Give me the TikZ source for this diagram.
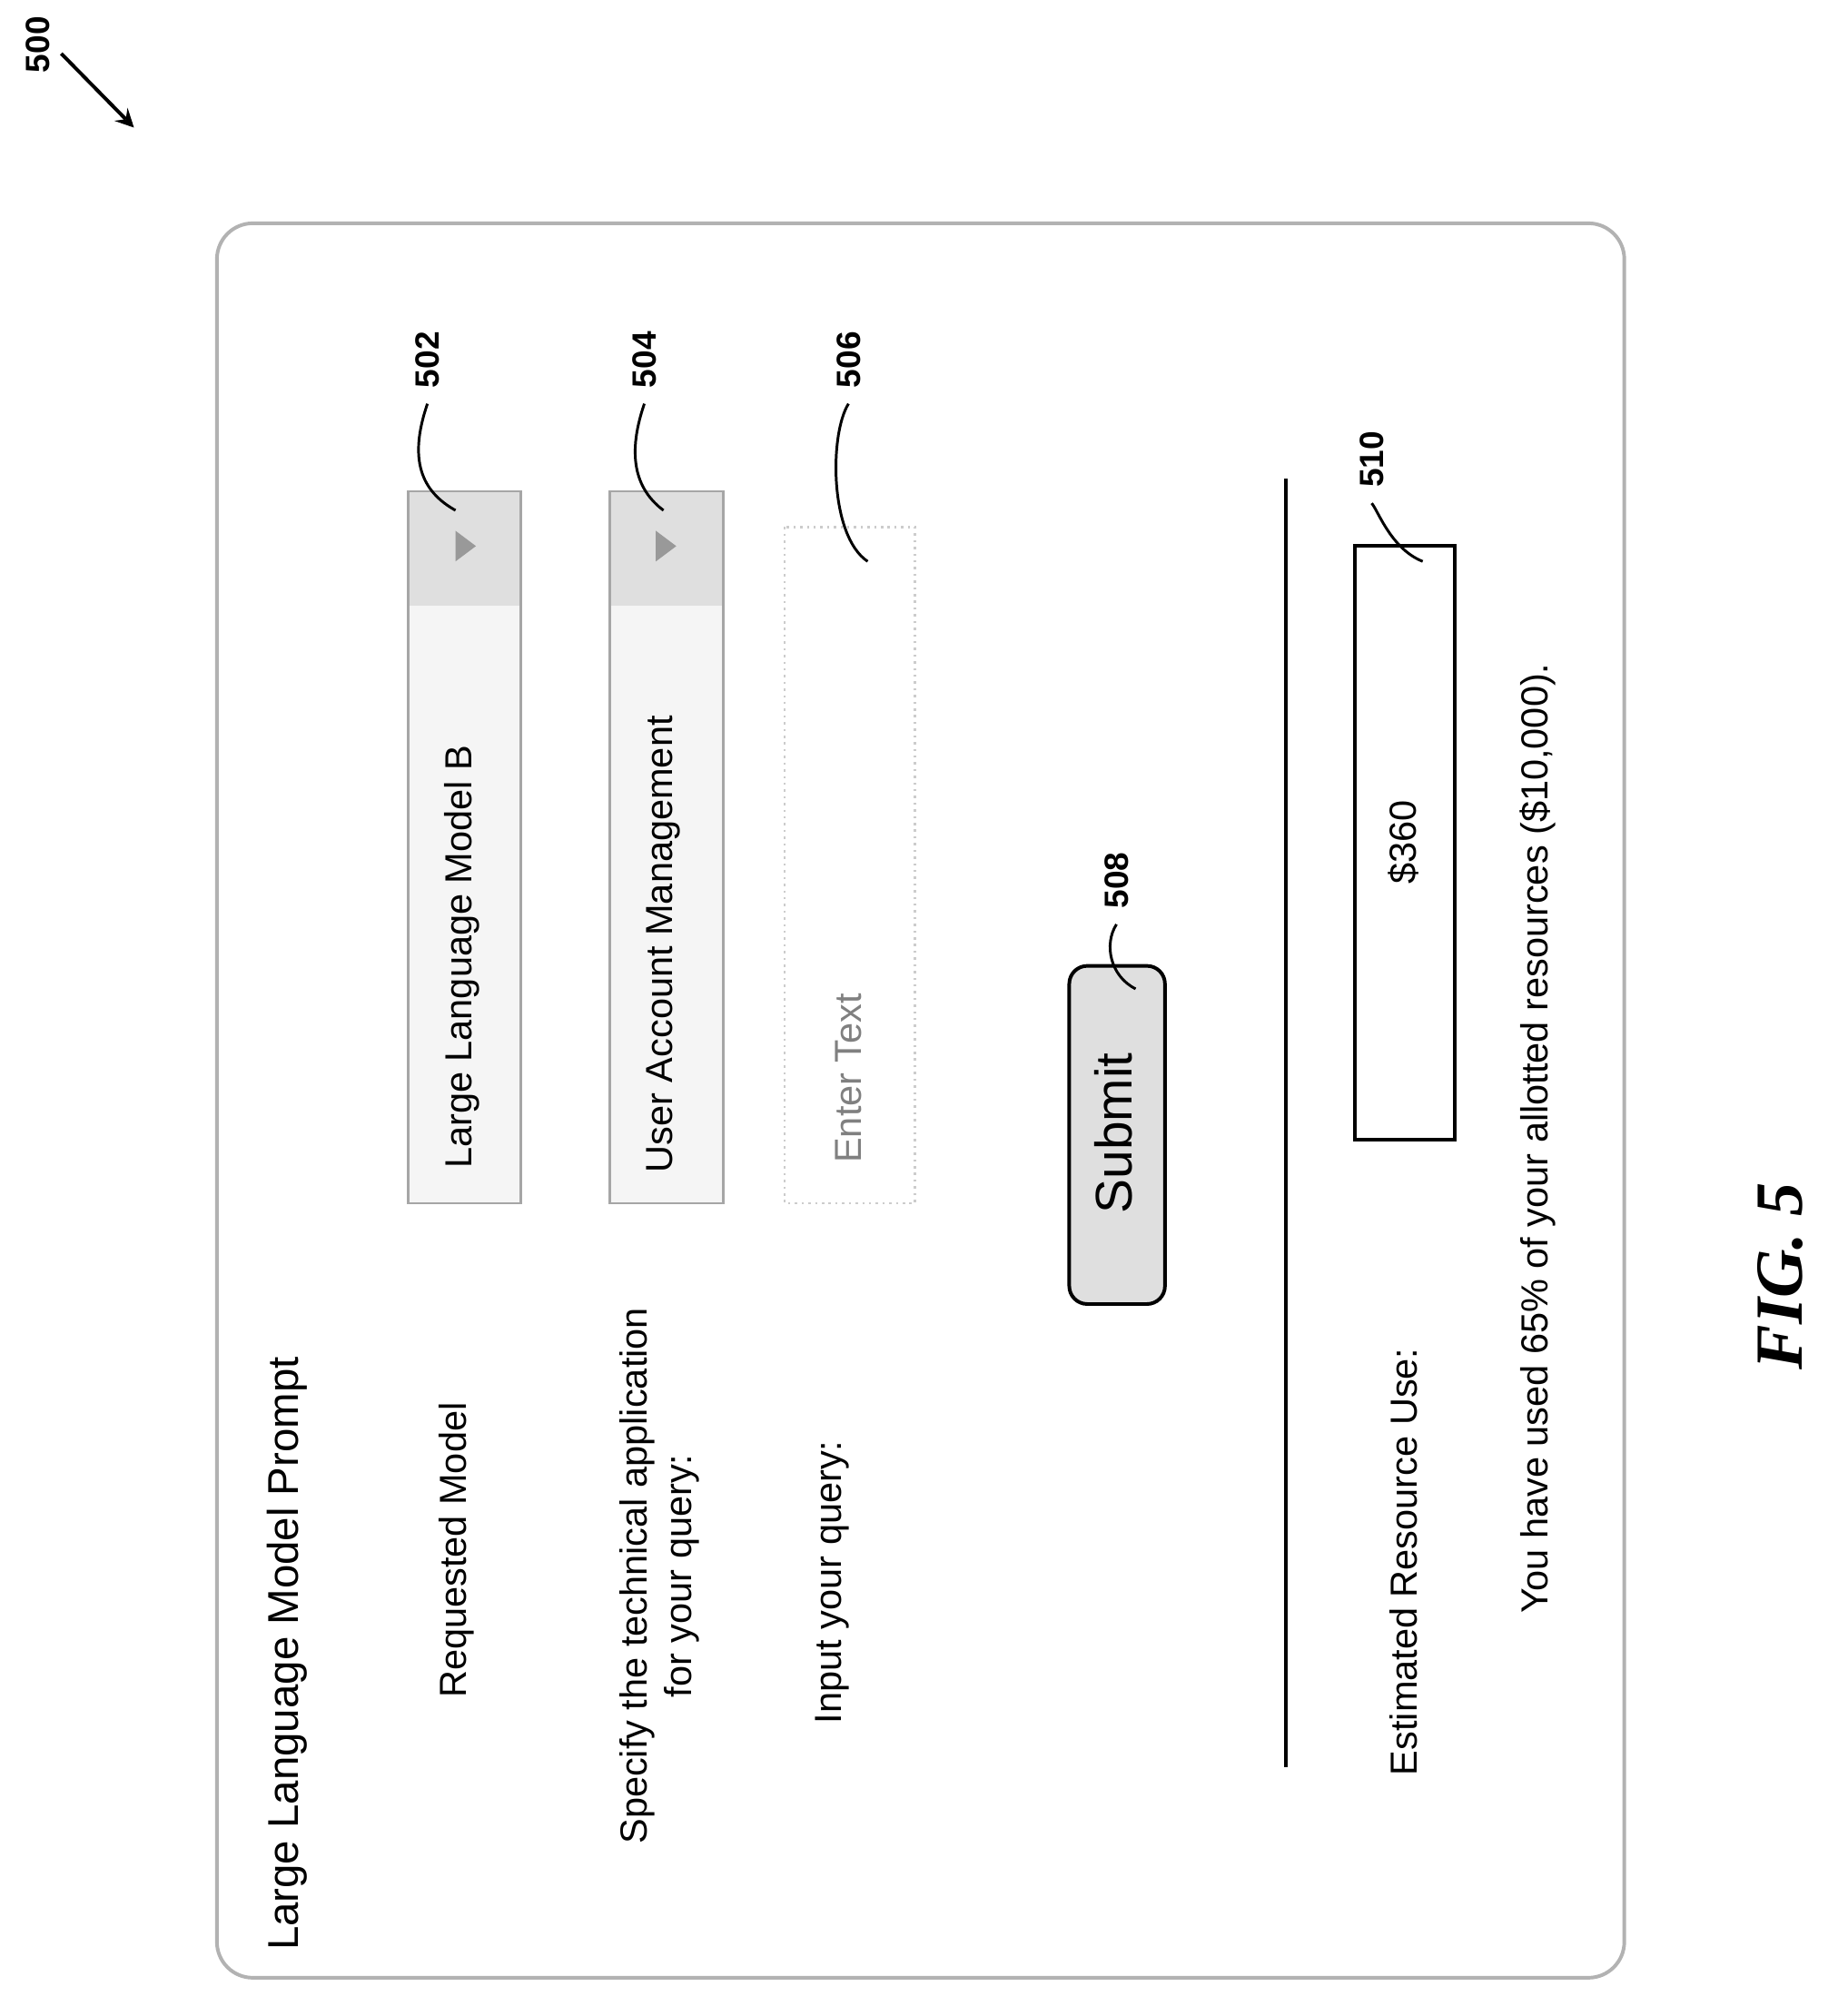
\documentclass[tikz,border=0pt]{standalone}
\usepackage{fontspec}
\setmainfont{Liberation Sans}
\newfontfamily\figfont{Liberation Serif}
\tikzset{
  lbl/.style={rotate=90, font=\fontsize{8.4}{10}\selectfont, align=center},
  refnum/.style={rotate=90, font=\fontsize{7.5}{9}\selectfont\bfseries},
  field/.style={draw=gray!70, line width=0.5pt},
  lead/.style={line width=0.6pt}
}
\begin{document}
\begin{tikzpicture}[x=0.01cm, y=-0.01cm]
	\useasboundingbox (0,0) rectangle (1440,1580);
	% frame
	\draw[gray!60, line width=0.8pt, rounded corners=8pt] (170,175) rectangle (1273,1550);
	\node[refnum] (n500) at (30,35) {500};
	\coordinate (s500) at (48,42);
	\coordinate (a500) at (105,100);
	\draw[-stealth, line width=0.8pt] (s500) -- (a500);

	% texts on the left
	\node[lbl, font=\fontsize{9.6}{11}\selectfont] (title) at (225,1296) {Large Language Model Prompt};
	\node[lbl] (reqmodel) at (358,1215) {Requested Model};
	\node[lbl] (techapp) at (517,1235) {Specify the technical application\\for your query:};
	\node[lbl] (inquery) at (652,1240) {Input your query:};

	% fields
	\draw[field, fill=gray!8] (320,385) rectangle (408,943);
	\fill[gray!25] (321,386) rectangle (407,475);
	\fill[gray!80] (357,416) -- (373,428) -- (357,440) -- cycle;
	\node[lbl] (model) at (362,750) {Large Language Model B};
	\draw[field, fill=gray!8] (478,385) rectangle (567,943);
	\fill[gray!25] (479,386) rectangle (566,475);
	\fill[gray!80] (514,416) -- (530,428) -- (514,440) -- cycle;
	\node[lbl] (account) at (520,740) {User Account Management};
	\draw[field, gray!40, densely dotted] (615,413) rectangle (717,943);
	\node[lbl, gray] (entertext) at (665,845) {Enter Text};

	% submit
	\draw[line width=0.8pt, rounded corners=4pt, fill=gray!25] (838,757) rectangle (913,1022);
	\node[lbl, font=\fontsize{11.5}{13}\selectfont] (submit) at (873,888) {Submit};

	\draw[line width=0.8pt] (1008,375) -- (1008,1385);
	\node[lbl] (estimated) at (1100,1224) {Estimated Resource Use:};
	\draw[line width=0.8pt] (1062,428) rectangle (1140,893);
	\node[lbl] (cost) at (1100,660) {\$360};
	\node[lbl] (used) at (1205,892) {You have used 65\% of your allotted resources (\$10,000).};

	\node[rotate=90, font=\figfont\fontsize{15}{17}\selectfont\bfseries\itshape] (fig) at (1395,1000) {FIG. 5};

	% reference numbers
	\node[refnum] (n502) at (335,282) {502};
	\node[refnum] (n504) at (505,282) {504};
	\node[refnum] (n506) at (665,282) {506};
	\node[refnum] (n508) at (875,690) {508};
	\node[refnum] (n510) at (1075,360) {510};
	\draw[lead] (n502.west) .. controls (320,360) and (330,385) .. (357,400);
	\draw[lead] (n504.west) .. controls (490,360) and (500,385) .. (520,400);
	\draw[lead] (n506.west) .. controls (650,340) and (650,420) .. (680,440);
	\draw[lead] (n508.west) .. controls (865,740) and (870,765) .. (890,775);
	\draw[lead] (n510.west) .. controls (1080,400) and (1090,430) .. (1115,440);
\end{tikzpicture}
\end{document}
